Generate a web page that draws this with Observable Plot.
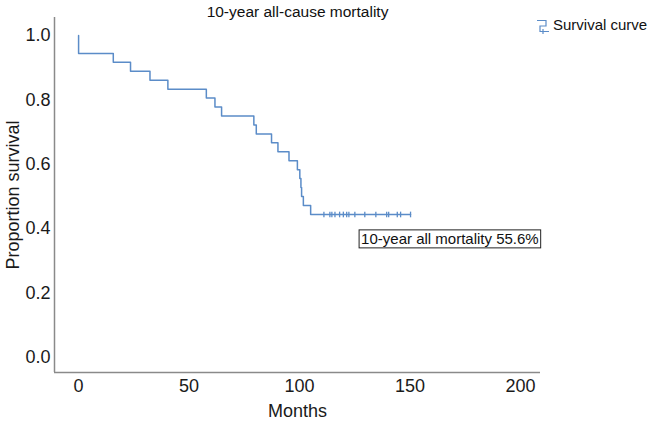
<!DOCTYPE html>
<html>
<head>
<meta charset="utf-8">
<script src="https://cdn.jsdelivr.net/npm/d3@7"></script>
<script src="https://cdn.jsdelivr.net/npm/@observablehq/plot@0.6"></script>
<style>
  body { margin: 0; background: white; }
  #chart { width: 661px; height: 421px; }
</style>
</head>
<body>
<div id="chart"></div>
<script>
// ---- data ----
const titleText = "10-year all-cause mortality";
const seriesName = "Survival curve";
const eventMonths = [0, 0, 15.7, 23.5, 32.3, 40.4, 57.8, 61.7, 64.7, 79.3, 80.4, 87.3, 90.2, 95.2, 99.0, 100.1, 100.6, 100.9, 101.7, 105.0, 150.2];
const survival    = [1, 0.944, 0.917, 0.889, 0.861, 0.833, 0.806, 0.778, 0.750, 0.722, 0.694, 0.667, 0.639, 0.611, 0.583, 0.556, 0.528, 0.500, 0.472, 0.444, 0.444];
const censorMonths = [111.0, 113.7, 114.6, 116.0, 118.1, 119.8, 121.3, 122.3, 125.0, 129.5, 134.5, 139.4, 140.3, 144.2, 145.7, 150.2];
const censorSurvival = 0.444;
const xTicks = [0, 50, 100, 150, 200];
const yTicks = [0, 0.2, 0.4, 0.6, 0.8, 1.0];
const xDomain = [-10.9, 209];
const yDomain = [-0.047, 1.056];
const annotation = [{month: 168, survival: 0.366, label: "10-year all mortality 55.6%"}];

const curve = eventMonths.map((m, i) => ({month: m, survival: survival[i]}));
const censored = censorMonths.map(m => ({month: m, survival: censorSurvival}));

const lineColor = "#5b8cc8";
const tickSymbol = {
  draw(ctx, size) {
    const r = Math.sqrt(size) / 2;
    ctx.moveTo(0, -r); ctx.lineTo(0, r);
  }
};

const chart = Plot.plot({
  width: 661,
  height: 421,
  marginLeft: 54,
  marginRight: 121,
  marginTop: 17,
  marginBottom: 49,
  style: {fontFamily: "'Liberation Sans', Arial, Helvetica, sans-serif", fontSize: "18px", color: "#1a1a1a", background: "white"},
  x: {domain: xDomain},
  y: {domain: yDomain},
  marks: [
    Plot.axisX({ticks: xTicks, tickSize: 0, tickPadding: 7, label: "Months", labelAnchor: "center", labelOffset: 44, labelArrow: "none", fontSize: 18}),
    Plot.axisY({ticks: yTicks, tickFormat: d3.format(".1f"), tickSize: 0, tickPadding: 4, label: "Proportion survival", labelAnchor: "center", labelOffset: 48, labelArrow: "none", fontSize: 18}),
    Plot.ruleY([yDomain[0]], {stroke: "#8a8a8a", strokeWidth: 1.5}),
    Plot.ruleX([xDomain[0]], {stroke: "#8a8a8a", strokeWidth: 1.5}),
    Plot.line(curve, {x: "month", y: "survival", curve: "step-after", stroke: lineColor, strokeWidth: 1.5}),
    Plot.dot(censored, {x: "month", y: "survival", symbol: tickSymbol, r: 3.2, stroke: lineColor, strokeWidth: 1.3, fill: "none"}),
    Plot.text(annotation, {x: "month", y: "survival", text: "label", fontSize: 15, fill: "#111", className: "annot"}),
    Plot.text([titleText], {frameAnchor: "top", dy: -5, fontSize: 15.5, fill: "#111", lineAnchor: "middle"})
  ]
});

document.getElementById("chart").appendChild(chart);

// box around the annotation text
const svg = d3.select(chart);
svg.selectAll("g.annot text").each(function() {
  const b = this.getBBox();
  d3.select(this.parentNode).insert("rect", "text")
    .attr("transform", this.getAttribute("transform"))
    .attr("x", b.x - 2).attr("y", b.y - 0.5)
    .attr("width", b.width + 4).attr("height", b.height + 1)
    .attr("fill", "white").attr("stroke", "#222").attr("stroke-width", 1);
});

// legend (top right)
const leg = svg.append("g").attr("class", "legend");
leg.append("path")
  .attr("d", "M537,20.5H546V26H540V31.5H549")
  .attr("fill", "none").attr("stroke", lineColor).attr("stroke-width", 1.2);
leg.append("path")
  .attr("d", "M543,29V34")
  .attr("fill", "none").attr("stroke", lineColor).attr("stroke-width", 1.2);
leg.append("text")
  .attr("x", 553).attr("y", 25).attr("dy", "0.35em")
  .attr("text-anchor", "start")
  .attr("font-size", 15).attr("fill", "#111")
  .text(seriesName);
</script>
</body>
</html>
